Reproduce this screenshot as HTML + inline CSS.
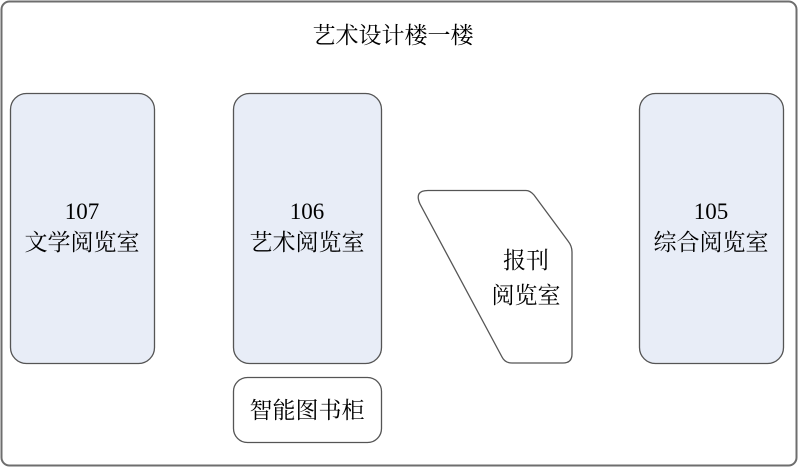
<!DOCTYPE html>
<html><head><meta charset="utf-8"><style>
body{margin:0;width:799px;height:468px;background:#fff;overflow:hidden}
svg text{font-family:"Liberation Serif","Noto Serif CJK SC",serif;font-size:23px;fill:#000}
</style></head><body>
<svg width="799" height="468" xmlns="http://www.w3.org/2000/svg">
<rect x="1.5" y="1.5" width="795" height="464" rx="8" fill="#fff" stroke="#6e6e6e" stroke-width="2"/>
<text x="393" y="43" text-anchor="middle">艺术设计楼一楼</text>
<g fill="#e8edf7" stroke="#555" stroke-width="1.3">
<rect x="10.5" y="93.5" width="144" height="270" rx="16"/>
<rect x="233.5" y="93.5" width="148" height="270" rx="16"/>
<rect x="639.5" y="93.5" width="144" height="270" rx="16"/>
</g>
<rect x="233.5" y="377.5" width="148" height="65" rx="14" fill="#fff" stroke="#555" stroke-width="1.3"/>
<path d="M428 190.5 L526 190.5 Q530 190.5 534 195 L568 241 Q572 246 572 252 L572 354 Q572 363 563 363 L512 363 Q505 363 502 357 L420 204 Q414 190.5 428 190.5 Z" fill="#fff" stroke="#555" stroke-width="1.3"/>
<g text-anchor="middle">
<text x="82" y="219">107</text><text x="82" y="250">文学阅览室</text>
<text x="307" y="219">106</text><text x="307" y="250">艺术阅览室</text>
<text x="711" y="219">105</text><text x="711" y="250">综合阅览室</text>
<text x="526" y="268">报刊</text><text x="526" y="303">阅览室</text>
<text x="307" y="418">智能图书柜</text>
</g>
</svg>
</body></html>
